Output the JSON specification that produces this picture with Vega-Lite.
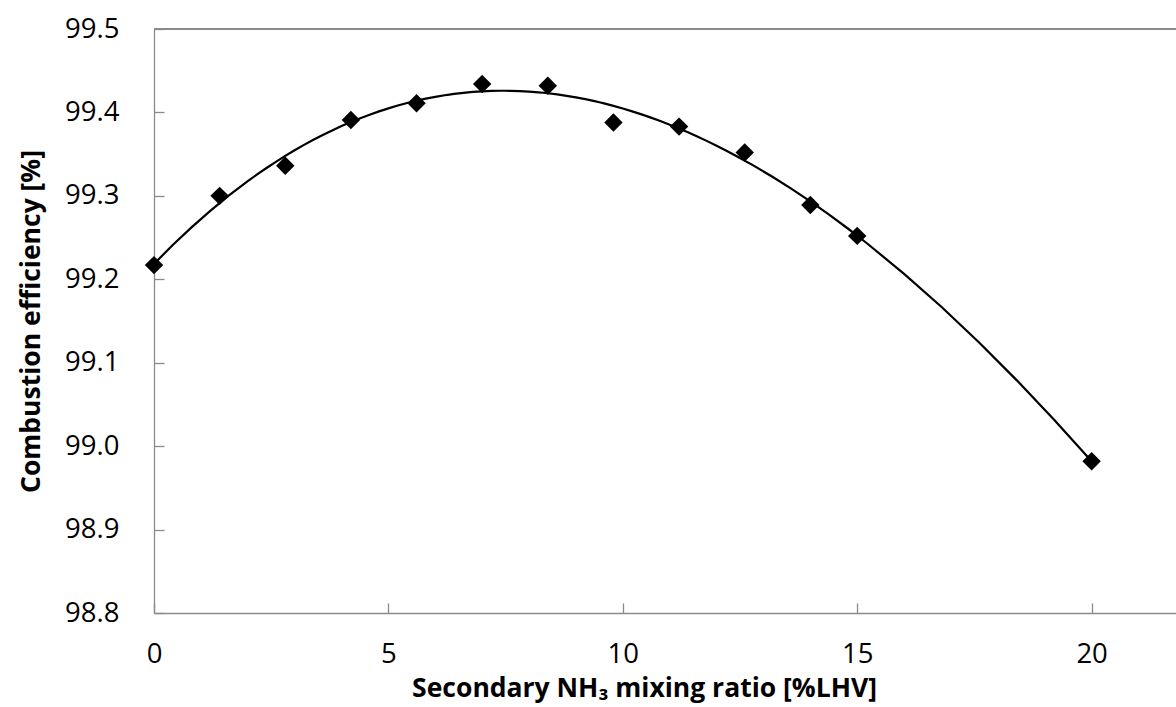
{
  "$schema": "https://vega.github.io/schema/vega-lite/v6.json",
  "autosize": {"type": "none"},
  "padding": {"left": 154, "top": 29, "right": 0, "bottom": 94},
  "width": 1022,
  "height": 584,
  "background": "white",
  "view": {"stroke": null},
  "config": {
    "font": "Open Sans",
    "axis": {
      "domainColor": "#8a8a8a",
      "tickColor": "#8a8a8a",
      "domainWidth": 1.3,
      "tickWidth": 1.3,
      "tickSize": -10,
      "grid": false,
      "labelFont": "Open Sans",
      "labelFontSize": 27.5,
      "labelColor": "#000000",
      "titleFont": "Open Sans",
      "titleFontSize": 26.5,
      "titleFontWeight": "bold",
      "titleColor": "#000000"
    }
  },
  "data": {
    "values": [
      {"x": 0.0, "eff": 99.217},
      {"x": 1.4, "eff": 99.300},
      {"x": 2.8, "eff": 99.336},
      {"x": 4.2, "eff": 99.391},
      {"x": 5.6, "eff": 99.411},
      {"x": 7.0, "eff": 99.434},
      {"x": 8.4, "eff": 99.432},
      {"x": 9.8, "eff": 99.388},
      {"x": 11.2, "eff": 99.383},
      {"x": 12.6, "eff": 99.352},
      {"x": 14.0, "eff": 99.289},
      {"x": 15.0, "eff": 99.252},
      {"x": 20.0, "eff": 98.982}
    ]
  },
  "layer": [
    {
      "mark": {"type": "rule", "color": "#8a8a8a", "strokeWidth": 1.3},
      "encoding": {"y": {"datum": 99.5, "type": "quantitative"}}
    },
    {
      "transform": [{"regression": "eff", "on": "x", "method": "poly", "order": 3}],
      "mark": {"type": "line", "color": "#000000", "strokeWidth": 2.2, "clip": true},
      "encoding": {
        "x": {"field": "x", "type": "quantitative"},
        "y": {"field": "eff", "type": "quantitative"}
      }
    },
    {
      "mark": {"type": "point", "shape": "diamond", "filled": true, "color": "#000000", "size": 340, "opacity": 1},
      "encoding": {
        "x": {
          "field": "x",
          "type": "quantitative",
          "scale": {"domain": [0, 21.8], "nice": false, "zero": false},
          "axis": {
            "values": [0, 5, 10, 15, 20],
            "format": "d",
            "labelPadding": 37,
            "labelFlush": false,
            "title": "Secondary NH₃ mixing ratio [%LHV]",
            "titlePadding": 8,
            "titleX": 490
          }
        },
        "y": {
          "field": "eff",
          "type": "quantitative",
          "scale": {"domain": [98.8, 99.5], "nice": false, "zero": false},
          "axis": {
            "values": [98.8, 98.9, 99.0, 99.1, 99.2, 99.3, 99.4, 99.5],
            "format": ".1f",
            "labelPadding": 45,
            "labelFlush": false,
            "title": "Combustion efficiency [%]",
            "titlePadding": 19
          }
        }
      }
    }
  ]
}
